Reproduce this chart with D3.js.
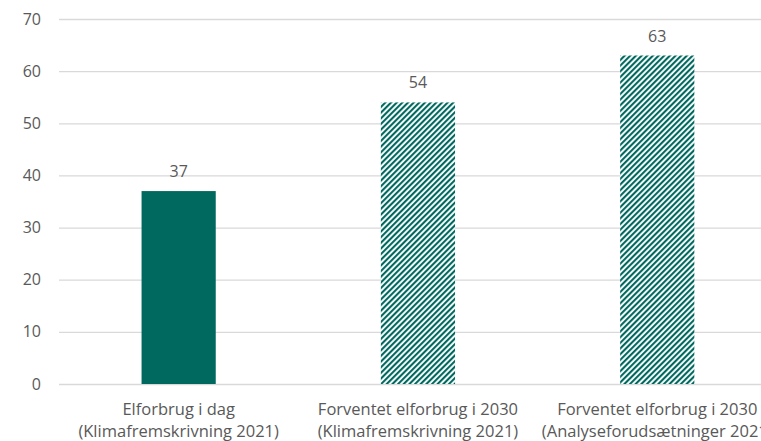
<!DOCTYPE html>
<html>
<head>
<meta charset="utf-8">
<script src="https://cdn.jsdelivr.net/npm/d3@7"></script>
<style>
  body { margin: 0; background: #fff; }
  text { font-family: "Open Sans", "Liberation Sans", sans-serif; fill: #595959; }
</style>
</head>
<body>
<div id="chart"></div>
<script>
"use strict";

const categories = [
    ["Elforbrug i dag", "(Klimafremskrivning 2021)"],
    ["Forventet elforbrug i 2030", "(Klimafremskrivning 2021)"],
    ["Forventet elforbrug i 2030", "(Analyseforudsætninger 2021)"]
];
const values = [37, 54, 63];
const hatched = [false, true, true];
const yTicks = [0, 10, 20, 30, 40, 50, 60, 70];

const w = 761, h = 441;
const marginLeft = 59, marginTop = 19, axisBottom = 384;
const color = "#00695f";

const svg = d3.select("#chart").append("svg")
    .attr("width", w)
    .attr("height", h);

const pat = svg.append("defs").append("pattern")
    .attr("id", "hatch")
    .attr("patternUnits", "userSpaceOnUse")
    .attr("width", 4)
    .attr("height", 4)
    .attr("patternTransform", "rotate(45)");
pat.append("rect").attr("width", 4).attr("height", 4).attr("fill", "#fff");
pat.append("rect").attr("width", 2.1).attr("height", 4).attr("fill", color);

const x = d3.scaleBand()
    .domain(d3.range(categories.length))
    .range([marginLeft, marginLeft + 3 * 239.3])
    .paddingInner(0.69)
    .paddingOuter(0.345);

const y = d3.scaleLinear().domain([0, 70]).range([axisBottom, marginTop]);

// grid lines
svg.append("g").selectAll("line")
    .data(yTicks)
    .enter().append("line")
    .attr("x1", marginLeft)
    .attr("x2", w)
    .attr("y1", d => y(d) + 0.5)
    .attr("y2", d => y(d) + 0.5)
    .attr("stroke", "#d9d9d9")
    .attr("stroke-width", 1.3);

// y tick labels
svg.append("g").selectAll("text")
    .data(yTicks)
    .enter().append("text")
    .attr("x", 41)
    .attr("y", d => y(d))
    .attr("dy", "0.35em")
    .attr("text-anchor", "end")
    .style("font-size", "16px")
    .text(d => d);

// bars
svg.append("g").selectAll("rect")
    .data(values)
    .enter().append("rect")
    .attr("x", (d, i) => x(i))
    .attr("width", x.bandwidth())
    .attr("y", d => y(d))
    .attr("height", d => y(0) - y(d))
    .attr("fill", (d, i) => hatched[i] ? "url(#hatch)" : color);

// value labels
svg.append("g").selectAll("text")
    .data(values)
    .enter().append("text")
    .attr("x", (d, i) => x(i) + x.bandwidth() / 2)
    .attr("y", d => y(d) - 14)
    .attr("text-anchor", "middle")
    .style("font-size", "16px")
    .text(d => d);

// category labels
const cat = svg.append("g").selectAll("text")
    .data(categories)
    .enter().append("text")
    .attr("text-anchor", "middle")
    .style("font-size", "16.5px")
    .attr("transform", (d, i) => "translate(" + (x(i) + x.bandwidth() / 2) + ",415)");
cat.append("tspan").attr("x", 0).attr("y", 0).text(d => d[0]);
cat.append("tspan").attr("x", 0).attr("y", 22).text(d => d[1]);
</script>
</body>
</html>
